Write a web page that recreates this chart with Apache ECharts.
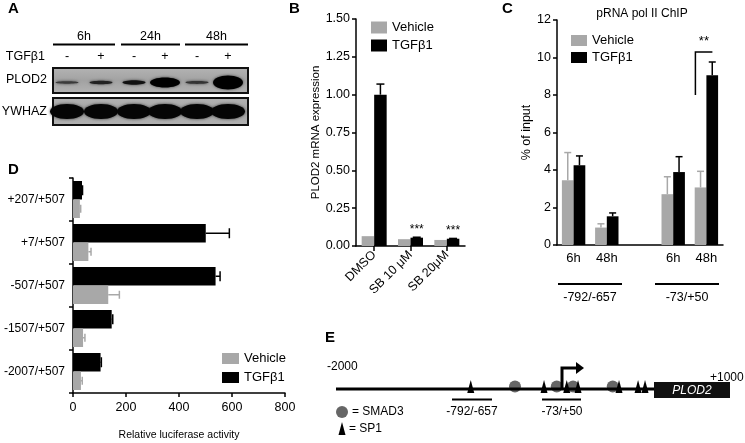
<!DOCTYPE html>
<html><head><meta charset="utf-8">
<script src="https://cdn.jsdelivr.net/npm/echarts@6/dist/echarts.min.js"></script>
<style>html,body{margin:0;padding:0;background:#fff}#c{width:745px;height:443px}</style>
</head><body><div id="c"></div>
<script>
// ---------- Panel A (western blot) ----------
const blotTimes = ['6h', '24h', '48h'];
const blotTreatment = ['-', '+', '-', '+', '-', '+'];
const plod2BandHalfHeight = [1.2, 1.7, 2.2, 5, 1.4, 7];
const plod2BandShade = ['#3a3a3a', '#222', '#111', '#000', '#333', '#000'];
const ywhazBandHalfHeight = [7.5, 7.5, 7.5, 7.5, 7.5, 7.5];

// ---------- Panel B ----------
const bCategories = ['DMSO', 'SB 10 μM', 'SB 20μM'];
const bVehicle = [0.065, 0.045, 0.04];
const bTGF = [1.0, 0.055, 0.048];
const bTGFErr = [0.07, 0.003, 0.002];
const bSignif = ['', '***', '***'];

// ---------- Panel C ----------
const cCategories = ['6h', '48h', '', '6h', '48h'];
const cGroups = ['-792/-657', '-73/+50'];
const cVehicle = [3.45, 0.93, null, 2.71, 3.07];
const cVehicleErr = [1.48, 0.2, null, 0.93, 0.86];
const cTGF = [4.25, 1.53, null, 3.89, 9.06];
const cTGFErr = [0.5, 0.18, null, 0.82, 0.7];
const cBracket = [[4, 8.0, 10.3]]; // category, leg bottom, bracket top
const cBracketText = '**';

// ---------- Panel D ----------
const dCategories = ['-2007/+507', '-1507/+507', '-507/+507', '+7/+507', '+207/+507'];
const dVehicle = [30, 38, 133, 58, 26];
const dVehicleErr = [5, 7, 42, 10, 3];
const dTGF = [104, 146, 538, 501, 34];
const dTGFErr = [3, 4, 17, 89, 2];

// ---------- Panel E (promoter schematic, schematic units) ----------
const eSP1 = [-974, -416, -243, -157, 155, 300, 353];
const eSMAD3 = [-637, -319, -195, 107];

const GREY = '#a8a8a8';
const FONT = '"Liberation Sans", Arial, Helvetica, sans-serif';

function txt(t, x, y, o) {
  o = o || {};
  const f = (o.italic ? 'italic ' : '') + (o.bold ? 'bold ' : '') + (o.size || 12) + 'px ' + FONT;
  const al = o.align || 'center';
  return { type: 'text', z: 20, style: { text: t, x: x, y: y, font: f, fill: o.fill || '#000',
    textAlign: al, align: al, textVerticalAlign: 'middle', verticalAlign: 'middle' } };
}
function ln(x1, y1, x2, y2, w, c) {
  return { type: 'line', z: 15, shape: { x1: x1, y1: y1, x2: x2, y2: y2 }, style: { stroke: c || '#000', lineWidth: w || 1.5 } };
}

const g = [];
// panel letters
g.push(txt('A', 8, 9, { bold: true, size: 15, align: 'left' }));
g.push(txt('B', 289, 9, { bold: true, size: 15, align: 'left' }));
g.push(txt('C', 502, 9, { bold: true, size: 15, align: 'left' }));
g.push(txt('D', 8, 170, { bold: true, size: 15, align: 'left' }));
g.push(txt('E', 325, 338, { bold: true, size: 15, align: 'left' }));

// Panel A
const laneX = [67, 101, 134, 165, 197, 228];
const timeSpan = [[53, 115], [121, 180], [185, 248]];
blotTimes.forEach((t, i) => {
  g.push(txt(t, (timeSpan[i][0] + timeSpan[i][1]) / 2, 37, { size: 12.5 }));
  g.push(ln(timeSpan[i][0], 44.5, timeSpan[i][1], 44.5, 2));
});
g.push(txt('TGFβ1', 45, 57, { size: 12.5, align: 'right' }));
blotTreatment.forEach((t, i) => g.push(txt(t, laneX[i], 57, { size: 12.5 })));
g.push(txt('PLOD2', 47, 80, { size: 12.5, align: 'right' }));
g.push(txt('YWHAZ', 47, 112, { size: 12.5, align: 'right' }));
[[68, 25], [98, 27]].forEach(b => {
  g.push({ type: 'rect', z: 10, shape: { x: 53, y: b[0], width: 195, height: b[1] },
    style: { fill: new echarts.graphic.LinearGradient(0, 0, 0, 1, [{ offset: 0, color: '#b4b4b4' }, { offset: 0.5, color: '#a2a2a2' }, { offset: 1, color: '#b4b4b4' }]),
      stroke: '#111', lineWidth: 2 } });
});
laneX.forEach((x, i) => {
  g.push({ type: 'ellipse', z: 12, shape: { cx: x, cy: 82.5, rx: plod2BandHalfHeight[i] > 4 ? 15 : 11.5, ry: plod2BandHalfHeight[i] },
    style: { fill: plod2BandShade[i], shadowBlur: 3, shadowColor: 'rgba(0,0,0,0.6)' } });
  g.push({ type: 'ellipse', z: 12, shape: { cx: x, cy: 111.5, rx: 17, ry: ywhazBandHalfHeight[i] },
    style: { fill: '#050505', shadowBlur: 3, shadowColor: 'rgba(0,0,0,0.7)' } });
});

// Panel C extra labels
g.push(txt('pRNA pol II ChIP', 642, 14, { size: 12 }));
g.push(ln(558, 284, 622, 284, 2));
g.push(ln(655, 284, 719, 284, 2));
g.push(txt(cGroups[0], 590, 298, { size: 12.5 }));
g.push(txt(cGroups[1], 687, 298, { size: 12.5 }));

// Panel E schematic
g.push(txt('-2000', 327, 367, { size: 12, align: 'left' }));
g.push(txt('+1000', 710, 378, { size: 12, align: 'left' }));
g.push(ln(336, 389, 656, 389, 3));
g.push({ type: 'rect', z: 15, shape: { x: 654, y: 382, width: 76, height: 16 }, style: { fill: '#111' } });
g.push(txt('PLOD2', 692, 390.5, { size: 12, italic: true, fill: '#fff' }));
g.push({ type: 'polyline', z: 15, shape: { points: [[562, 389], [562, 368], [578, 368]] }, style: { stroke: '#000', lineWidth: 3, fill: null } });
g.push({ type: 'polygon', z: 15, shape: { points: [[576, 362], [584, 368], [576, 374]] }, style: { fill: '#000' } });
g.push(ln(452, 399.5, 492, 399.5, 2));
g.push(ln(542, 399.5, 581, 399.5, 2));
g.push(txt('-792/-657', 472, 412, { size: 12 }));
g.push(txt('-73/+50', 562, 412, { size: 12 }));
g.push({ type: 'circle', z: 15, shape: { cx: 342, cy: 412, r: 6 }, style: { fill: '#666' } });
g.push(txt('= SMAD3', 352, 412, { size: 12, align: 'left' }));
g.push({ type: 'polygon', z: 15, shape: { points: [[338.5, 435], [342, 422], [345.5, 435]] }, style: { fill: '#000' } });
g.push(txt('= SP1', 349, 429, { size: 12, align: 'left' }));

// ---- error bar helpers ----
function vErr(xi, yi, vals, errs, offset, color, cap) {
  const data = [];
  vals.forEach((v, i) => { if (v != null) data.push([i, v, v + errs[i]]); });
  return { type: 'custom', xAxisIndex: xi, yAxisIndex: yi, z: 3, silent: true, data: data,
    renderItem: (p, api) => {
      const b = api.coord([api.value(0), api.value(1)]);
      const t = api.coord([api.value(0), api.value(2)]);
      const x = b[0] + offset;
      return { type: 'group', children: [
        { type: 'line', shape: { x1: x, y1: b[1], x2: x, y2: t[1] }, style: { stroke: color, lineWidth: 1.5 } },
        { type: 'line', shape: { x1: x - cap / 2, y1: t[1], x2: x + cap / 2, y2: t[1] }, style: { stroke: color, lineWidth: 1.5 } }
      ] };
    } };
}
function hErr(xi, yi, vals, errs, offset, color, cap) {
  const data = vals.map((v, i) => [v, i, v + errs[i]]);
  return { type: 'custom', xAxisIndex: xi, yAxisIndex: yi, z: 3, silent: true, data: data,
    renderItem: (p, api) => {
      const b = api.coord([api.value(0), api.value(1)]);
      const r = api.coord([api.value(2), api.value(1)]);
      const y = b[1] + offset;
      return { type: 'group', children: [
        { type: 'line', shape: { x1: b[0], y1: y, x2: r[0], y2: y }, style: { stroke: color, lineWidth: 1.5 } },
        { type: 'line', shape: { x1: r[0], y1: y - cap / 2, x2: r[0], y2: y + cap / 2 }, style: { stroke: color, lineWidth: 1.5 } }
      ] };
    } };
}

const axisLine = { show: true, lineStyle: { color: '#000', width: 1.5 } };
const axisTick = { show: true, length: 4, lineStyle: { color: '#000', width: 1.5 } };
const legendBase = { data: ['Vehicle', 'TGFβ1'], orient: 'vertical', icon: 'rect', selectedMode: false,
  textStyle: { color: '#000', fontFamily: FONT } };

const option = {
  animation: false,
  backgroundColor: '#fff',
  textStyle: { fontFamily: FONT, color: '#000' },
  legend: [
    Object.assign({}, legendBase, { left: 366, top: 16, itemWidth: 16, itemHeight: 12, itemGap: 5, textStyle: { color: '#000', fontFamily: FONT, fontSize: 13 } }),
    Object.assign({}, legendBase, { left: 566, top: 29, itemWidth: 16, itemHeight: 11, itemGap: 4, textStyle: { color: '#000', fontFamily: FONT, fontSize: 13 } }),
    Object.assign({}, legendBase, { left: 217, top: 347, itemWidth: 17, itemHeight: 11, itemGap: 6, textStyle: { color: '#000', fontFamily: FONT, fontSize: 13 } })
  ],
  grid: [
    { left: 356, top: 19, width: 109, height: 227 },
    { left: 557, top: 20, width: 166, height: 225 },
    { left: 73, top: 178, width: 212, height: 215 },
    { left: 336, top: 370, width: 394, height: 30 }
  ],
  xAxis: [
    { gridIndex: 0, type: 'category', data: bCategories, axisLine: axisLine,
      axisTick: { show: true, alignWithLabel: true, length: 5, lineStyle: { color: '#000', width: 1.5 } },
      axisLabel: { rotate: 45, fontSize: 12.5, color: '#000', margin: 7, interval: 0 } },
    { gridIndex: 1, type: 'category', data: cCategories, axisLine: axisLine, axisTick: { show: false },
      axisLabel: { fontSize: 13, color: '#000', margin: 7, interval: 0 } },
    { gridIndex: 2, type: 'value', min: 0, max: 800, interval: 200, axisLine: axisLine, axisTick: axisTick,
      splitLine: { show: false }, axisLabel: { fontSize: 12.5, color: '#000', margin: 8 },
      name: 'Relative luciferase activity', nameLocation: 'middle', nameGap: 37, nameTextStyle: { fontSize: 10.5, color: '#000' } },
    { gridIndex: 3, type: 'value', min: -2000, max: 1000, show: false }
  ],
  yAxis: [
    { gridIndex: 0, type: 'value', min: 0, max: 1.5, interval: 0.25, axisLine: axisLine, axisTick: axisTick,
      splitLine: { show: false }, axisLabel: { fontSize: 12.5, color: '#000', margin: 6, formatter: v => v.toFixed(2) },
      name: 'PLOD2 mRNA expression', nameLocation: 'middle', nameRotate: 90, nameGap: 34, nameTextStyle: { fontSize: 11.5, color: '#000' } },
    { gridIndex: 1, type: 'value', min: 0, max: 12, interval: 2, axisLine: axisLine, axisTick: axisTick,
      splitLine: { show: false }, axisLabel: { fontSize: 12.5, color: '#000', margin: 6 },
      name: '% of input', nameLocation: 'middle', nameRotate: 90, nameGap: 24, nameTextStyle: { fontSize: 12.5, color: '#000' } },
    { gridIndex: 2, type: 'category', data: dCategories, axisLine: axisLine, axisTick: axisTick,
      axisLabel: { fontSize: 12, color: '#000', margin: 8, interval: 0 } },
    { gridIndex: 3, type: 'value', min: 0, max: 1, show: false }
  ],
  series: [
    // B
    { name: 'Vehicle', type: 'bar', xAxisIndex: 0, yAxisIndex: 0, data: bVehicle, barWidth: 12.5, barGap: '0%', itemStyle: { color: GREY } },
    { name: 'TGFβ1', type: 'bar', xAxisIndex: 0, yAxisIndex: 0, data: bTGF, barWidth: 12.5, barGap: '0%', itemStyle: { color: '#000' },
      label: { show: true, position: 'top', distance: 2, fontSize: 12, color: '#000', formatter: p => bSignif[p.dataIndex] } },
    vErr(0, 0, bTGF, bTGFErr, 6.25, '#000', 8),
    // C
    { name: 'Vehicle', type: 'bar', xAxisIndex: 1, yAxisIndex: 1, data: cVehicle.map(v => v == null ? '-' : v), barWidth: 11.7, barGap: '0%', itemStyle: { color: GREY } },
    { name: 'TGFβ1', type: 'bar', xAxisIndex: 1, yAxisIndex: 1, data: cTGF.map(v => v == null ? '-' : v), barWidth: 11.7, barGap: '0%', itemStyle: { color: '#000' } },
    vErr(1, 1, cVehicle, cVehicleErr, -5.85, GREY, 7),
    vErr(1, 1, cTGF, cTGFErr, 5.85, '#000', 7),
    { type: 'custom', xAxisIndex: 1, yAxisIndex: 1, silent: true, data: cBracket,
      renderItem: (p, api) => {
        const lo = api.coord([api.value(0), api.value(1)]);
        const hi = api.coord([api.value(0), api.value(2)]);
        const xl = lo[0] - 11, xr = lo[0] + 6;
        return { type: 'group', children: [
          { type: 'polyline', shape: { points: [[xl, lo[1]], [xl, hi[1]], [xr, hi[1]]] }, style: { stroke: '#000', lineWidth: 1.5, fill: null } },
          { type: 'text', style: { text: cBracketText, x: (xl + xr) / 2, y: hi[1] - 4, font: '13px ' + FONT, fill: '#000', textAlign: 'center', align: 'center', textVerticalAlign: 'bottom', verticalAlign: 'bottom' } }
        ] };
      } },
    // D (TGFβ1 listed first so it sits on top within each category)
    { name: 'TGFβ1', type: 'bar', xAxisIndex: 2, yAxisIndex: 2, data: dTGF, barWidth: 18.5, barGap: '0%', itemStyle: { color: '#000' } },
    { name: 'Vehicle', type: 'bar', xAxisIndex: 2, yAxisIndex: 2, data: dVehicle, barWidth: 18.5, barGap: '0%', itemStyle: { color: GREY } },
    hErr(2, 2, dVehicle, dVehicleErr, 9.25, GREY, 8),
    hErr(2, 2, dTGF, dTGFErr, -9.25, '#000', 10),
    // E
    { type: 'scatter', xAxisIndex: 3, yAxisIndex: 3, silent: true, symbol: 'circle', symbolSize: 12, z: 5,
      data: eSMAD3.map(x => [x, 0.45]), itemStyle: { color: '#666', opacity: 1 } },
    { type: 'scatter', xAxisIndex: 3, yAxisIndex: 3, silent: true, symbol: 'triangle', symbolSize: [7, 13], z: 6,
      data: eSP1.map(x => [x, 0.45]), itemStyle: { color: '#000', opacity: 1 } }
  ],
  graphic: { elements: g }
};
const chart = echarts.init(document.getElementById('c'), null, { renderer: 'canvas', width: 745, height: 443 });
chart.setOption(option);
</script>
</body></html>
